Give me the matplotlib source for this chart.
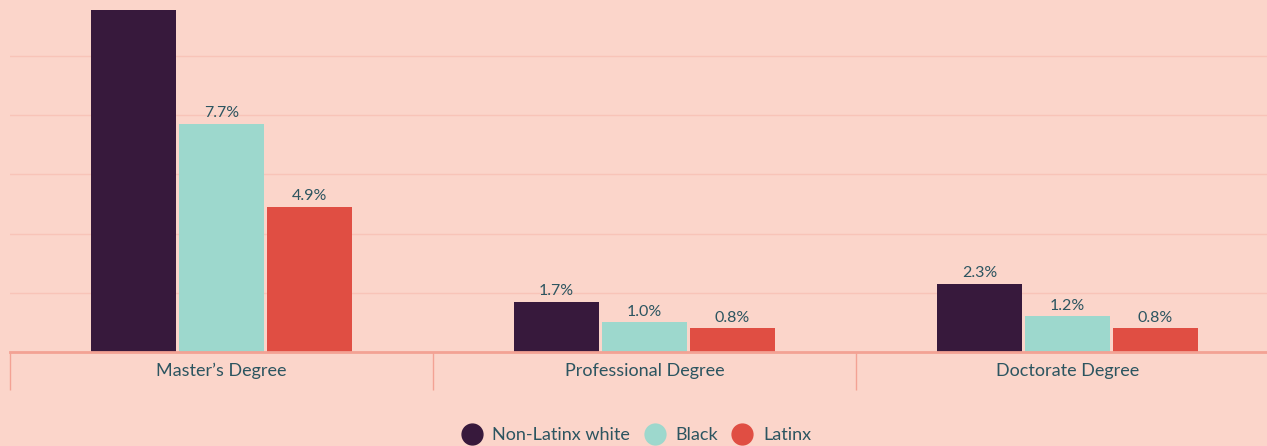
import numpy as np
import matplotlib
matplotlib.use('Agg')
import matplotlib.pyplot as plt
from matplotlib.lines import Line2D

# ------------------------------------------------------------------
# Data (percent); first bar runs off the top of the chart
# ------------------------------------------------------------------
DEGREES = ["Master\u2019s Degree", "Professional Degree", "Doctorate Degree"]
GROUPS = ["Non-Latinx white", "Black", "Latinx"]
WHITE = [14.0, 1.7, 2.3]
BLACK = [7.7, 1.0, 1.2]
LATINX = [4.9, 0.8, 0.8]
LABELS_SHOWN = [[None, "1.7%", "2.3%"],
                ["7.7%", "1.0%", "1.2%"],
                ["4.9%", "0.8%", "0.8%"]]

BG = '#FBD5CA'
COLORS = ['#37193C', '#9DD8CD', '#E04E43']
TEXT = '#2C5560'
AXIS = '#F3A294'
GRID = '#F8C4B8'

plt.rcParams['font.family'] = ['Lato', 'DejaVu Sans']

fig = plt.figure(figsize=(12.67, 4.46), dpi=100, facecolor=BG)
ax = fig.add_axes([10 / 1267, 94 / 446, 1269 / 1267, 342 / 446])
ax.set_facecolor(BG)

x = np.arange(len(DEGREES))
width = 0.203
step = 0.208
for k, (vals, col) in enumerate(zip([WHITE, BLACK, LATINX], COLORS)):
    pos = x + (k - 1) * step
    ax.bar(pos, vals, width=width, color=col, zorder=3)
    for p, v, lab in zip(pos, vals, LABELS_SHOWN[k]):
        if lab:
            ax.text(p, v + 0.12, lab, ha='center', va='bottom',
                    fontsize=11.5, color=TEXT, zorder=4)

ax.set_xlim(-0.5, 2.5)
ax.set_ylim(0, 11.55)
ax.set_yticks([2, 4, 6, 8, 10])
ax.yaxis.grid(True, color=GRID, linewidth=1, zorder=0)
ax.tick_params(axis='y', left=False, labelleft=False)

for s in ['top', 'right', 'left']:
    ax.spines[s].set_visible(False)
ax.spines['bottom'].set_color(AXIS)
ax.spines['bottom'].set_linewidth(2)
ax.spines['bottom'].set_zorder(5)

ax.set_xticks(x)
ax.set_xticklabels(DEGREES, fontsize=13, color=TEXT)
ax.tick_params(axis='x', which='major', length=0, pad=8)
ax.set_xticks([-0.5, 0.5, 1.5, 2.5], minor=True)
ax.tick_params(axis='x', which='minor', length=27, width=1, color=AXIS)

handles = [Line2D([], [], marker='o', linestyle='none', markersize=15,
                  markerfacecolor=c, markeredgecolor=c) for c in COLORS]
fig.legend(handles, GROUPS, loc='center', bbox_to_anchor=(0.502, 11 / 446),
           ncol=3, frameon=False, fontsize=13, labelcolor=TEXT,
           handletextpad=0.55, columnspacing=0.75, handlelength=1.2)

fig.savefig('out.png', dpi=100, facecolor=BG)
